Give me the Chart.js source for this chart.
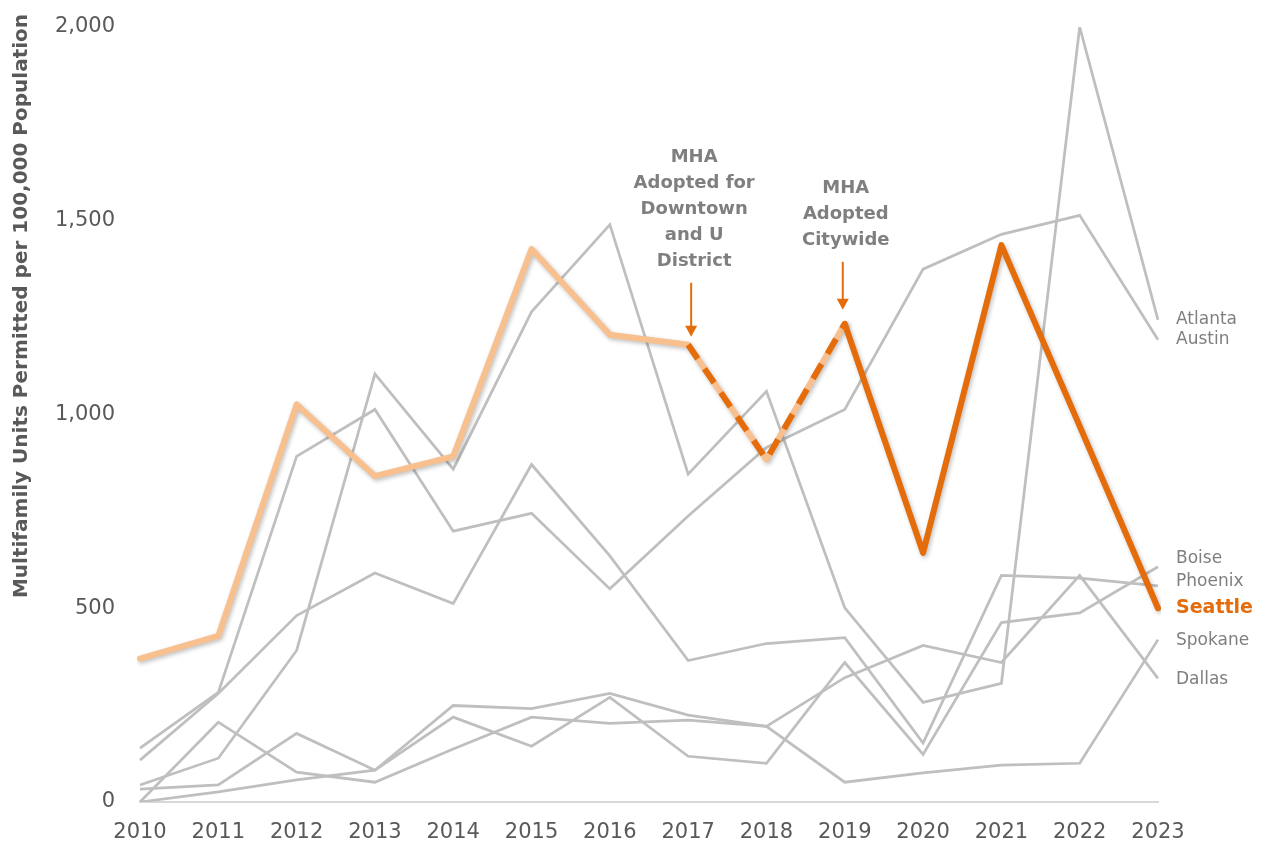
<!DOCTYPE html>
<html>
<head>
<meta charset="utf-8">
<script src="https://cdn.jsdelivr.net/npm/chart.js@4"></script>
<style>
  html, body { margin: 0; padding: 0; background: #fff; }
  #wrap { width: 1266px; height: 846px; }
</style>
</head>
<body>
<div id="wrap"><canvas id="myChart" width="1266" height="846"></canvas></div>
<script>
const years = ['2010', '2011', '2012', '2013', '2014', '2015', '2016', '2017', '2018', '2019', '2020', '2021', '2022', '2023'];
const yTicks = [0, 500, 1000, 1500, 2000];
const yTitle = 'Multifamily Units Permitted per 100,000 Population';

const atlanta = [44, 113, 391, 1105, 859, 1265, 1490, 846, 1060, 501, 257, 306, 2000, 1244];
const austin = [139, 283, 892, 1013, 699, 745, 550, 738, 915, 1013, 1375, 1465, 1514, 1193];
const boise = [0, 26, 57, 82, 219, 144, 270, 118, 100, 360, 123, 463, 488, 607];
const phoenix = [108, 280, 481, 591, 512, 871, 635, 365, 409, 424, 152, 585, 578, 558];
const spokane = [0, 206, 77, 51, 137, 219, 203, 211, 195, 51, 75, 95, 100, 419];
const dallas = [33, 44, 177, 82, 249, 241, 280, 224, 195, 321, 404, 360, 585, 319];
const seattle = [370, 429, 1026, 841, 892, 1427, 1206, 1180, 884, 1234, 643, 1437, 970, 500];

// notes point at Seattle years
const notes = [
  { year: '2017', lines: ['MHA', 'Adopted for', 'Downtown', 'and U', 'District'] },
  { year: '2019', lines: ['MHA', 'Adopted', 'Citywide'] },
];

const GRAY = '#bfbfbf';
const PEACH = '#f8c08f';
const ORANGE = '#e46c0a';
const FONT = "'DejaVu Sans', sans-serif";

const grayLine = (label, data) => ({
  label,
  data,
  borderColor: GRAY,
  borderWidth: 2.75,
  pointRadius: 0,
  tension: 0,
  order: 5,
});

// Seattle: light before 2019, dark after, dashed overlay 2017-2019
const lightEnd = years.indexOf('2019');
const dashStart = years.indexOf('2017');

const seattleBase = {
  label: 'Seattle',
  data: seattle,
  borderWidth: 6,
  pointRadius: 0,
  tension: 0,
  borderJoinStyle: 'round',
  borderCapStyle: 'round',
  borderColor: ORANGE,
  segment: {
    borderColor: (c) => (c.p0DataIndex < lightEnd ? PEACH : ORANGE),
  },
  order: 1,
  shadow: true,
};

const seattleDash = {
  label: 'Seattle dash',
  data: seattle,
  borderWidth: 6,
  pointRadius: 0,
  tension: 0,
  borderColor: 'rgba(0,0,0,0)',
  borderDash: [17, 12],
  segment: {
    borderColor: (c) => (c.p0DataIndex >= dashStart && c.p0DataIndex < lightEnd ? ORANGE : 'rgba(0,0,0,0)'),
  },
  order: 0,
};

const endLabels = [
  { name: 'Atlanta', data: atlanta, nudge: 0 },
  { name: 'Austin', data: austin, nudge: 0 },
  { name: 'Boise', data: boise, nudge: -8 },
  { name: 'Phoenix', data: phoenix, nudge: -4 },
  { name: 'Seattle', data: seattle, nudge: 0, bold: true },
  { name: 'Spokane', data: spokane, nudge: 1 },
  { name: 'Dallas', data: dallas, nudge: 1 },
];

const shadowPlugin = {
  id: 'shadow',
  beforeDatasetDraw(chart, args) {
    const ds = chart.data.datasets[args.index];
    if (ds.shadow) {
      chart.ctx.save();
      chart.ctx.shadowColor = 'rgba(0,0,0,0.25)';
      chart.ctx.shadowBlur = 4;
      chart.ctx.shadowOffsetX = 1.5;
      chart.ctx.shadowOffsetY = 2;
    }
  },
  afterDatasetDraw(chart, args) {
    const ds = chart.data.datasets[args.index];
    if (ds.shadow) {
      chart.ctx.restore();
    }
  },
};

const labelPlugin = {
  id: 'labels',
  afterDraw(chart) {
    const ctx = chart.ctx;
    const x = chart.scales.x;
    const y = chart.scales.y;
    const last = years.length - 1;

    ctx.save();
    // y axis title
    ctx.save();
    ctx.translate(22, 306);
    ctx.rotate(-Math.PI / 2);
    ctx.font = 'bold 20px ' + FONT;
    ctx.fillStyle = '#595959';
    ctx.textAlign = 'center';
    ctx.textBaseline = 'middle';
    ctx.fillText(yTitle, 0, 0);
    ctx.restore();

    ctx.textBaseline = 'middle';
    ctx.textAlign = 'left';
    endLabels.forEach((l) => {
      const py = y.getPixelForValue(l.data[last]) + l.nudge;
      if (l.bold) {
        ctx.font = 'bold 19px ' + FONT;
        ctx.fillStyle = ORANGE;
      } else {
        ctx.font = '17px ' + FONT;
        ctx.fillStyle = '#7f7f7f';
      }
      ctx.fillText(l.name, chart.chartArea.right + 18, py);
    });

    // notes with arrows
    notes.forEach((n, i) => {
      const idx = years.indexOf(n.year);
      const px = x.getPixelForValue(idx) + (i === 0 ? 3 : -2);
      const py = y.getPixelForValue(seattle[idx]);
      const tip = py - (i === 0 ? 8 : 14);
      const tail = tip - (i === 0 ? 54 : 48);

      ctx.strokeStyle = ORANGE;
      ctx.fillStyle = ORANGE;
      ctx.lineWidth = 2;
      ctx.beginPath();
      ctx.moveTo(px, tail);
      ctx.lineTo(px, tip - 9);
      ctx.stroke();
      ctx.beginPath();
      ctx.moveTo(px - 6, tip - 11);
      ctx.lineTo(px + 6, tip - 11);
      ctx.lineTo(px, tip);
      ctx.closePath();
      ctx.fill();

      ctx.font = 'bold 18px ' + FONT;
      ctx.fillStyle = '#7f7f7f';
      ctx.textAlign = 'center';
      const lh = 26;
      const bottom = tail - 21;
      n.lines.forEach((t, j) => {
        ctx.fillText(t, px + 3, bottom - (n.lines.length - 1 - j) * lh);
      });
    });
    ctx.restore();
  },
};

const ctx = document.getElementById('myChart').getContext('2d');
const myChart = new Chart(ctx, {
  type: 'line',
  data: {
    labels: years,
    datasets: [
      grayLine('Atlanta', atlanta),
      grayLine('Austin', austin),
      grayLine('Boise', boise),
      grayLine('Phoenix', phoenix),
      grayLine('Spokane', spokane),
      grayLine('Dallas', dallas),
      seattleBase,
      seattleDash,
    ],
  },
  options: {
    responsive: false,
    animation: false,
    layout: { padding: { left: 0, right: 108, top: 27, bottom: 0 } },
    plugins: {
      legend: { display: false },
      tooltip: { enabled: false },
    },
    scales: {
      x: {
        offset: false,
        grid: { display: false, drawTicks: false },
        border: { display: true, color: '#d9d9d9', width: 2 },
        ticks: {
          color: '#595959',
          font: { family: FONT, size: 21 },
          padding: 18,
          maxRotation: 0,
          autoSkip: false,
        },
        afterFit: (s) => { s.height = 44; },
      },
      y: {
        min: 0,
        max: 2000,
        grid: { display: false, drawTicks: false },
        border: { display: false },
        afterBuildTicks: (s) => { s.ticks = yTicks.map((v) => ({ value: v })); },
        ticks: {
          color: '#595959',
          font: { family: FONT, size: 21 },
          padding: 25,
          callback: (v) => v.toLocaleString('en-US'),
        },
        afterFit: (s) => {
          s.width = 140;
          s.paddingTop = 0;
          s.paddingBottom = 0;
        },
      },
    },
  },
  plugins: [shadowPlugin, labelPlugin],
});
</script>
</body>
</html>
